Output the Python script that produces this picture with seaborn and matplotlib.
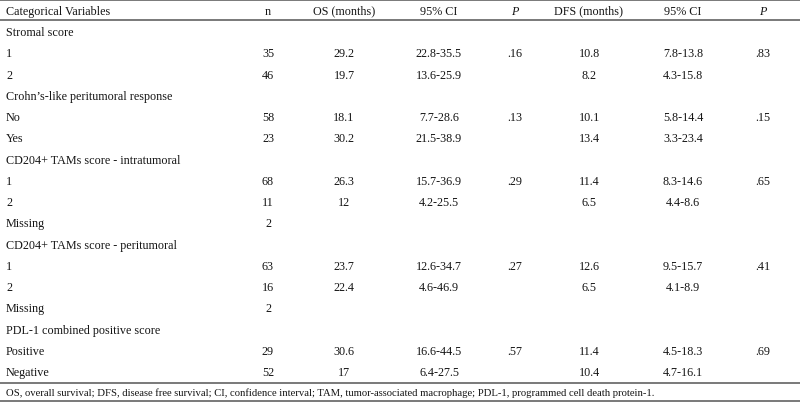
import matplotlib
matplotlib.use("Agg")
import matplotlib.pyplot as plt
import seaborn as sns

# table content, one entry per body row
labels = ["Stromal score", "1", "2",
          "Crohn\u2019s-like peritumoral response", "No", "Yes",
          "CD204+ TAMs score - intratumoral", "1", "2", "Missing",
          "CD204+ TAMs score - peritumoral", "1", "2", "Missing",
          "PDL-1 combined positive score", "Positive", "Negative"]
n_vals = ["", "35", "46", "", "58", "23", "", "68", "11", "2",
          "", "63", "16", "2", "", "29", "52"]
os_months = ["", "29.2", "19.7", "", "18.1", "30.2", "", "26.3", "12", "",
             "", "23.7", "22.4", "", "", "30.6", "17"]
os_ci = ["", "22.8-35.5", "13.6-25.9", "", "7.7-28.6", "21.5-38.9", "",
         "15.7-36.9", "4.2-25.5", "", "", "12.6-34.7", "4.6-46.9", "", "",
         "16.6-44.5", "6.4-27.5"]
os_p = ["", ".16", "", "", ".13", "", "", ".29", "", "", "", ".27", "", "",
        "", ".57", ""]
dfs_months = ["", "10.8", "8.2", "", "10.1", "13.4", "", "11.4", "6.5", "",
              "", "12.6", "6.5", "", "", "11.4", "10.4"]
dfs_ci = ["", "7.8-13.8", "4.3-15.8", "", "5.8-14.4", "3.3-23.4", "",
          "8.3-14.6", "4.4-8.6", "", "", "9.5-15.7", "4.1-8.9", "", "",
          "4.5-18.3", "4.7-16.1"]
dfs_p = ["", ".83", "", "", ".15", "", "", ".65", "", "", "", ".41", "", "",
         "", ".69", ""]

headers = ["Categorical Variables", "n", "OS (months)", "95% CI", "P",
           "DFS (months)", "95% CI", "P"]
footnote = ("OS, overall survival; DFS, disease free survival; CI, confidence "
            "interval; TAM, tumor-associated macrophage; PDL-1, programmed "
            "cell death protein-1.")

columns = [labels, n_vals, os_months, os_ci, os_p, dfs_months, dfs_ci, dfs_p]
col_x = [6, 268, 344, 439, 515, 589, 683, 763]

sns.set_theme(style="white")
plt.rcParams["font.family"] = ["Liberation Serif", "DejaVu Serif"]

fig = plt.figure(figsize=(8, 4.06), dpi=100)
ax = fig.add_axes([0, 0, 1, 1])
ax.set_xlim(0, 800)
# y in row units: header = 0, body rows 1..17
ax.set_ylim(18.55, -0.553)
ax.axis("off")

fs = 8.7
dy = -0.07  # small nudge so glyphs sit like the reference
for j, (x, head) in enumerate(zip(col_x, headers)):
    ha = "left" if j == 0 else "center"
    style = "italic" if head == "P" else "normal"
    ax.text(x, dy, head, ha=ha, va="center_baseline", fontsize=fs,
            style=style, color="#151515")
    for i, val in enumerate(columns[j]):
        if val:
            ax.text(x, i + 1 + dy, val, ha=ha, va="center_baseline",
                    fontsize=fs, color="#151515")

for y in [-0.506, 0.435, 17.52, 18.36]:
    ax.axhline(y, color="#555555", lw=1.1)

ax.text(6, 17.92, footnote, ha="left", va="center_baseline", fontsize=7.7,
        color="#151515")

fig.savefig("out.png", dpi=100)
